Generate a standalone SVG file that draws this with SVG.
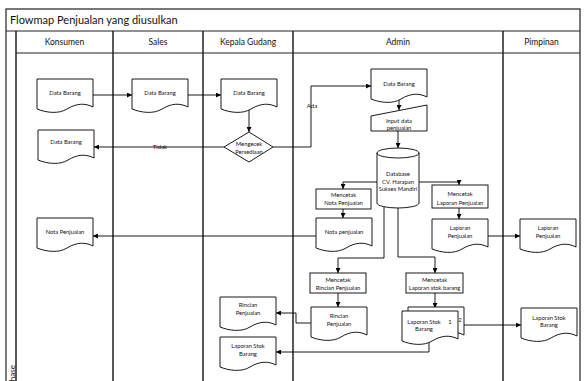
<svg xmlns="http://www.w3.org/2000/svg" xmlns:xlink="http://www.w3.org/1999/xlink" width="587" height="381" viewBox="0 0 587 381">
  <style>
    .frame { fill: none; stroke: #222; stroke-width: 1.2; }
    .lane { fill: none; stroke: #222; stroke-width: 1.5; }
    .shape { fill: #fff; stroke: #000; stroke-width: 0.9; }
    .flow { fill: none; stroke: #000; stroke-width: 0.9; marker-end: url(#arr); }
    .line { fill: none; stroke: #000; stroke-width: 0.9; }
    text { font-family: Lato, "Liberation Sans", sans-serif; fill: #111; }
    .title { font-size: 11px; }
    .head { font-size: 8.5px; text-anchor: middle; }
    .t { font-size: 5.8px; text-anchor: middle; }
    .lbl { font-size: 6px; text-anchor: middle; }
  </style>
  <defs>
    <!-- document shape: flat top, wavy bottom -->
    <path id="doc" d="M0,0 H56 V28 C48,24 40,24 30,30 C22,35 10,34 0,30 Z"/>
    <marker id="arr" viewBox="0 0 10 10" refX="10" refY="5" markerWidth="5" markerHeight="5" markerUnits="userSpaceOnUse" orient="auto">
      <path d="M0,0 L10,5 L0,10 Z" fill="#000"/>
    </marker>
  </defs>

  <!-- swimlane frame -->
  <g id="pool">
    <rect x="0" y="0" width="587" height="381" fill="#fff"/>
    <rect class="frame" x="6" y="9" width="574" height="380"/>
    <line class="frame" x1="6" y1="31" x2="580" y2="31"/>
    <line class="frame" x1="16" y1="53" x2="580" y2="53"/>
    <line class="lane" x1="16" y1="31" x2="16" y2="385"/>
    <line class="lane" x1="113" y1="31" x2="113" y2="385"/>
    <line class="lane" x1="203" y1="31" x2="203" y2="385"/>
    <line class="lane" x1="293" y1="31" x2="293" y2="385"/>
    <line class="lane" x1="503" y1="31" x2="503" y2="385"/>
    <text class="title" x="10" y="23.5">Flowmap Penjualan yang diusulkan</text>
    <text class="head" x="64.5" y="45">Konsumen</text>
    <text class="head" x="158" y="45">Sales</text>
    <text class="head" x="248" y="45">Kepala Gudang</text>
    <text class="head" x="398" y="45">Admin</text>
    <text class="head" x="541.5" y="45">Pimpinan</text>
    <text font-size="8" transform="translate(14.5,386) rotate(-90)">Phase</text>
  </g>

  <!-- connectors -->
  <g id="connectors">
    <path class="flow" d="M93,95 H132"/>
    <path class="flow" d="M187,95 H221"/>
    <path class="flow" d="M249,109 V132"/>
    <path class="flow" d="M273,147 H311 V86 H371"/>
    <path class="flow" d="M224,147 H94"/>
    <path class="flow" d="M399,99 V110"/>
    <path class="flow" d="M398,131 V148"/>
    <path class="flow" d="M377,182 H343 V189"/>
    <path class="flow" d="M419,182 H459 V185"/>
    <path class="flow" d="M343,209 V218"/>
    <path class="flow" d="M459,208 V219"/>
    <path class="flow" d="M316,236 H93"/>
    <path class="flow" d="M488,236 H520"/>
    <path class="flow" d="M384,207 V258 H338 V273"/>
    <path class="flow" d="M398,208 V257 H435 V273"/>
    <path class="flow" d="M338,293 V307"/>
    <path class="flow" d="M435,293 V308"/>
    <path class="flow" d="M311,323 H296 V313 H276"/>
    <path class="flow" d="M429,341 V352 H276"/>
    <path class="flow" d="M463,325 H521"/>
    <text class="lbl" x="312" y="108">Ada</text>
    <text class="lbl" x="160" y="149">Tidak</text>
  </g>

  <!-- Konsumen -->
  <g id="konsumen-data-barang">
    <use xlink:href="#doc" class="shape" x="37" y="79"/>
    <text class="t" x="65" y="95">Data Barang</text>
  </g>
  <g id="konsumen-data-barang-tidak">
    <use xlink:href="#doc" class="shape" x="38" y="130"/>
    <text class="t" x="66" y="144">Data Barang</text>
  </g>
  <g id="konsumen-nota-penjualan">
    <use xlink:href="#doc" class="shape" x="37" y="218"/>
    <text class="t" x="65" y="234">Nota  Penjualan</text>
  </g>

  <!-- Sales -->
  <g id="sales-data-barang">
    <use xlink:href="#doc" class="shape" x="132" y="79"/>
    <text class="t" x="160" y="95">Data Barang</text>
  </g>

  <!-- Kepala Gudang -->
  <g id="gudang-data-barang">
    <use xlink:href="#doc" class="shape" x="221" y="79"/>
    <text class="t" x="249" y="95">Data Barang</text>
  </g>
  <g id="gudang-cek">
    <polygon class="shape" points="249,132 273,147 249,162 224,147"/>
    <text class="t" x="249" y="146">Mengecek</text>
    <text class="t" x="249" y="153.5">Persediaan</text>
  </g>
  <g id="gudang-rincian">
    <use xlink:href="#doc" class="shape" x="220" y="297"/>
    <text class="t" x="248" y="307">Rincian</text>
    <text class="t" x="248" y="315">Penjualan</text>
  </g>
  <g id="gudang-laporan-stok">
    <use xlink:href="#doc" class="shape" x="220" y="337"/>
    <text class="t" x="248" y="348">Laporan Stok</text>
    <text class="t" x="248" y="355.5">Barang</text>
  </g>

  <!-- Admin -->
  <g id="admin-data-barang">
    <use xlink:href="#doc" class="shape" x="371" y="69"/>
    <text class="t" x="399" y="86">Data Barang</text>
  </g>
  <g id="admin-input">
    <polygon class="shape" points="371,116 427,105 427,131 371,131"/>
    <text class="t" x="399" y="123">Input data</text>
    <text class="t" x="399" y="130">penjualan</text>
  </g>
  <g id="admin-database">
    <path class="shape" d="M377,153 V203 A21,5 0 0 0 419,203 V153 A21,5 0 0 0 377,153 Z"/>
    <path class="line" d="M377,153 A21,5 0 0 0 419,153"/>
    <text class="t" x="398" y="176">Database</text>
    <text class="t" x="398" y="183.5">CV. Harapan</text>
    <text class="t" x="398" y="191">Sukses Mandiri</text>
  </g>
  <g id="admin-cetak-nota">
    <rect class="shape" x="316" y="189" width="55" height="20"/>
    <text class="t" x="343.5" y="197">Mencetak</text>
    <text class="t" x="343.5" y="205">Nota Penjualan</text>
  </g>
  <g id="admin-nota">
    <use xlink:href="#doc" class="shape" x="316" y="218"/>
    <text class="t" x="344" y="234">Nota penjualan</text>
  </g>
  <g id="admin-cetak-laporan">
    <rect class="shape" x="432" y="185" width="56" height="23"/>
    <text class="t" x="460" y="196">Mencetak</text>
    <text class="t" x="460" y="204.5">Laporan Penjualan</text>
  </g>
  <g id="admin-laporan-penjualan">
    <use xlink:href="#doc" class="shape" x="432" y="219"/>
    <text class="t" x="460" y="230">Laporan</text>
    <text class="t" x="460" y="238">Penjualan</text>
  </g>
  <g id="admin-cetak-rincian">
    <rect class="shape" x="310" y="273" width="56" height="20"/>
    <text class="t" x="338" y="282">Mencetak</text>
    <text class="t" x="338" y="290">Rincian Penjualan</text>
  </g>
  <g id="admin-rincian">
    <use xlink:href="#doc" class="shape" x="311" y="307"/>
    <text class="t" x="339" y="318">Rincian</text>
    <text class="t" x="339" y="326">Penjualan</text>
  </g>
  <g id="admin-cetak-stok">
    <rect class="shape" x="406" y="273" width="57" height="20"/>
    <text class="t" x="434.5" y="282">Mencetak</text>
    <text class="t" x="434.5" y="290">Laporan stok barang</text>
  </g>
  <g id="admin-laporan-stok">
    <use xlink:href="#doc" class="shape" x="408" y="307"/>
    <use xlink:href="#doc" class="shape" x="402" y="311"/>
    <text class="t" x="424" y="324">Laporan Stok</text>
    <text class="t" x="450" y="324">1</text>
    <text class="t" x="460" y="322">2</text>
    <text class="t" x="424" y="331">Barang</text>
  </g>

  <!-- Pimpinan -->
  <g id="pimpinan-laporan-penjualan">
    <use xlink:href="#doc" class="shape" x="520" y="219"/>
    <text class="t" x="548" y="230">Laporan</text>
    <text class="t" x="548" y="238">Penjualan</text>
  </g>
  <g id="pimpinan-laporan-stok">
    <use xlink:href="#doc" class="shape" x="521" y="308"/>
    <text class="t" x="549" y="320">Laporan Stok</text>
    <text class="t" x="549" y="327">Barang</text>
  </g>
</svg>
